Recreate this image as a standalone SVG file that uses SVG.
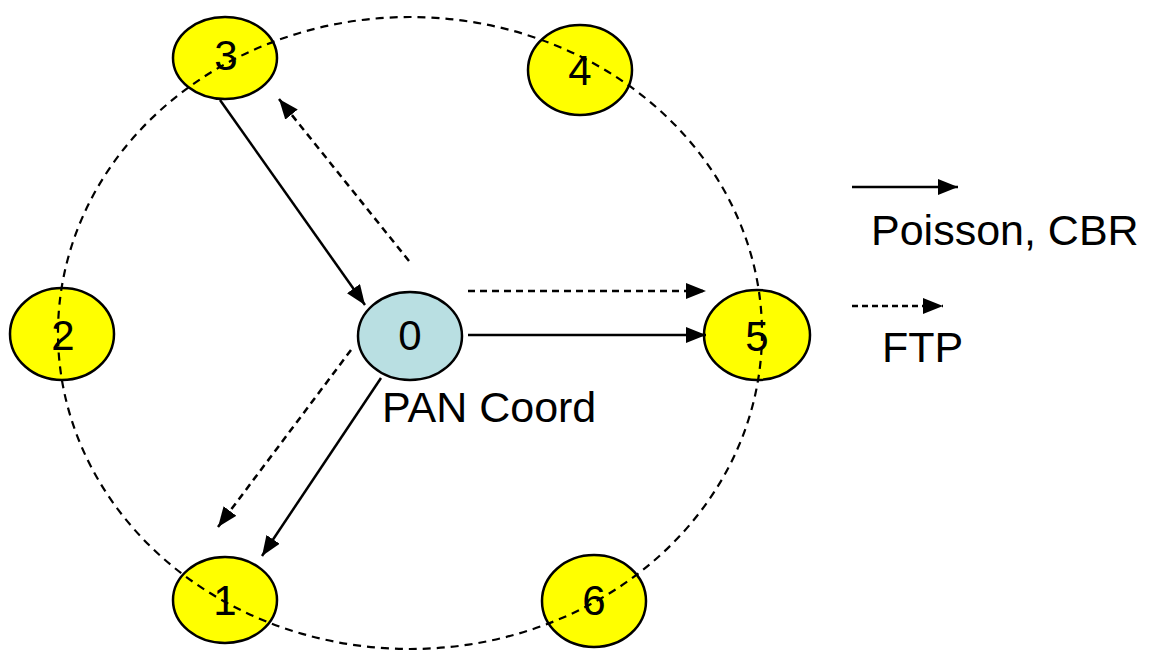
<svg xmlns="http://www.w3.org/2000/svg" width="1151" height="652" viewBox="0 0 1151 652">
  <style>
    .node { stroke: #000; stroke-width: 2.5; }
    .dev { fill: #FFFF00; }
    .coord { fill: #B9DFE2; }
    .num { font-family: "Liberation Sans", Arial, sans-serif; font-size: 42px; text-anchor: middle; fill: #000; }
    .label { font-family: "Liberation Sans", Arial, sans-serif; font-size: 43px; fill: #000; }
    .solid { stroke: #000; stroke-width: 2.5; fill: none; }
    .dash { stroke: #000; stroke-width: 2.5; fill: none; stroke-dasharray: 7 5; }
    .ring { stroke: #000; stroke-width: 2.2; fill: none; stroke-dasharray: 8 6; }
  </style>
  <defs>
    <marker id="head" markerUnits="userSpaceOnUse" markerWidth="22" markerHeight="16" refX="20" refY="8" orient="auto">
      <path d="M0,0 L20,8 L0,16 Z" fill="#000"/>
    </marker>
  </defs>

  <rect width="1151" height="652" fill="#fff"/>

  <!-- network nodes -->
  <g id="node-3"><ellipse class="node dev" cx="225" cy="58" rx="52" ry="41"/><text class="num" x="226" y="70">3</text></g>
  <g id="node-4"><ellipse class="node dev" cx="580" cy="70" rx="52" ry="45"/><text class="num" x="580" y="85">4</text></g>
  <g id="node-2"><ellipse class="node dev" cx="62" cy="334" rx="52" ry="46"/><text class="num" x="63" y="350">2</text></g>
  <g id="node-0"><ellipse class="node coord" cx="410" cy="336" rx="52" ry="44"/><text class="num" x="410" y="350">0</text></g>
  <g id="node-5"><ellipse class="node dev" cx="757" cy="335" rx="53" ry="45"/><text class="num" x="757" y="351">5</text></g>
  <g id="node-1"><ellipse class="node dev" cx="225" cy="600" rx="52" ry="43"/><text class="num" x="225" y="615">1</text></g>
  <g id="node-6"><ellipse class="node dev" cx="594" cy="601" rx="52" ry="46"/><text class="num" x="594" y="615">6</text></g>

  <!-- radio range ring -->
  <g id="range">
    <ellipse class="ring" cx="410" cy="333" rx="352" ry="316"/>
  </g>

  <!-- coordinator label -->
  <g id="coord-label"><text class="label" x="382" y="422">PAN Coord</text></g>

  <!-- traffic flows -->
  <g id="connectors">
    <line class="solid" x1="220" y1="100" x2="365" y2="305" marker-end="url(#head)"/>
    <line class="dash" x1="409" y1="261" x2="279" y2="99" marker-end="url(#head)"/>
    <line class="dash" x1="468" y1="291" x2="706" y2="291" marker-end="url(#head)"/>
    <line class="solid" x1="468" y1="335" x2="706" y2="335" marker-end="url(#head)"/>
    <line class="dash" x1="351" y1="350" x2="218" y2="527" marker-end="url(#head)"/>
    <line class="solid" x1="381" y1="378" x2="262" y2="556" marker-end="url(#head)"/>
  </g>

  <!-- legend -->
  <g id="legend">
    <line class="solid" x1="852" y1="187" x2="958" y2="187" marker-end="url(#head)"/>
    <text class="label" x="871" y="245">Poisson, CBR</text>
    <line class="dash" x1="852" y1="306" x2="943" y2="306" marker-end="url(#head)" style="stroke-dasharray: 6 4"/>
    <text class="label" x="882" y="362">FTP</text>
  </g>
</svg>
